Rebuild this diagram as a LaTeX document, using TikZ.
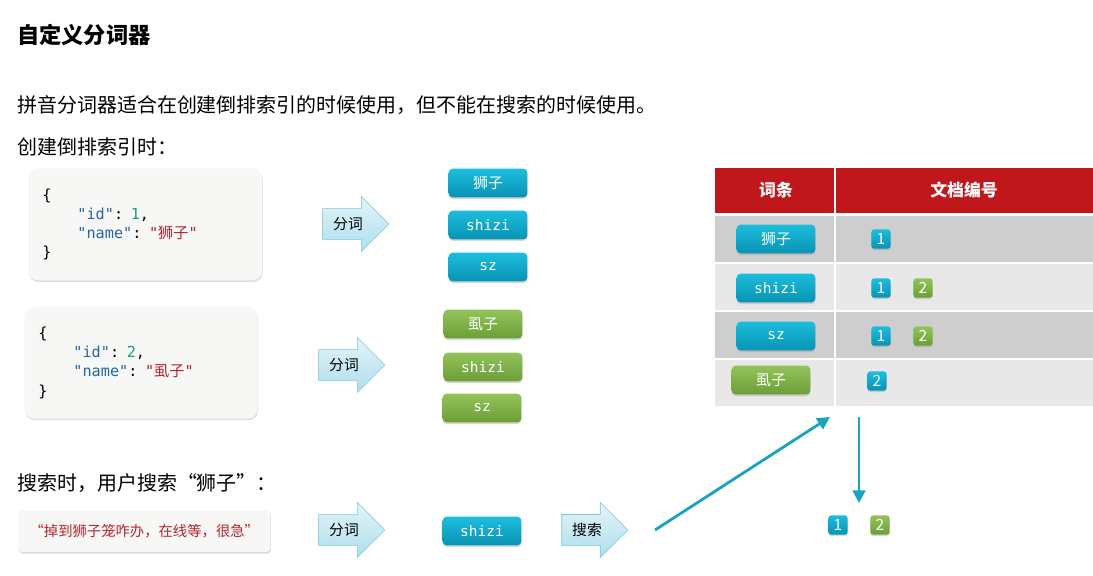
\documentclass[tikz,border=0pt]{standalone}
\usepackage{fontspec}
\setmainfont{Noto Sans CJK SC}
\setmonofont{DejaVu Sans Mono}
\usetikzlibrary{shapes.arrows,shadows,arrows.meta}

\definecolor{tokbluetop}{HTML}{1DBDDD}
\definecolor{tokbluebot}{HTML}{0893B3}
\definecolor{tokgreentop}{HTML}{93C35A}
\definecolor{tokgreenbot}{HTML}{6C9E38}
\definecolor{hdrred}{HTML}{C0171C}
\definecolor{rowdark}{HTML}{CFCECE}
\definecolor{rowlight}{HTML}{E8E8E8}
\definecolor{codegray}{HTML}{F7F7F5}
\definecolor{keyblue}{HTML}{2466A8}
\definecolor{numgreen}{HTML}{1E9E7E}
\definecolor{strred}{HTML}{B3262C}
\definecolor{flowcyan}{HTML}{1AA3BF}
\definecolor{arrowedge}{HTML}{78C8E0}

\begin{document}
\begin{tikzpicture}[x=0.025cm,y=-0.025cm,
    txt/.style={anchor=west, inner sep=0pt, font=\fontsize{14.2}{17}\selectfont},
    codebox/.style={anchor=north west, rounded corners=7pt, fill=codegray,
        drop shadow={opacity=0.25, shadow xshift=0.4pt, shadow yshift=-1.2pt},
        inner xsep=0.35cm, align=left, font=\ttfamily\fontsize{10.8}{13.6}\selectfont},
    fenci/.style={single arrow, draw=arrowedge, top color=arrowedge!20, bottom color=arrowedge!60,
        single arrow head extend=0.3cm, minimum height=1.65cm, inner sep=6pt,
        font=\fontsize{10.5}{12}\selectfont},
    tok/.style={rounded corners=3pt, minimum width=1.97cm, minimum height=0.72cm, text=white,
        drop shadow={opacity=0.3, shadow xshift=0pt, shadow yshift=-1.2pt},
        font=\fontsize{10.6}{12}\selectfont},
    mono/.style={font=\ttfamily\fontsize{10.3}{12}\selectfont},
    tokblue/.style={tok, top color=tokbluetop, bottom color=tokbluebot},
    tokgreen/.style={tok, top color=tokgreentop, bottom color=tokgreenbot},
    doc/.style={rounded corners=2pt, minimum size=0.48cm, inner sep=0pt, text=white,
        drop shadow={opacity=0.3, shadow xshift=0pt, shadow yshift=-1pt},
        font=\fontsize{11}{12}\selectfont},
    docblue/.style={doc, top color=tokbluetop, bottom color=tokbluebot},
    docgreen/.style={doc, top color=tokgreentop, bottom color=tokgreenbot},
    flow/.style={flowcyan, line width=2pt, -{Triangle[length=9pt,width=9pt]}}]

    \useasboundingbox[fill=white] (0,0) rectangle (1093,575);

    % Headings
    \node[txt, font=\bfseries\fontsize{15.8}{19}\selectfont] (title) at (17,35) {自定义分词器};
    \node[txt] (intro) at (17,105) {拼音分词器适合在创建倒排索引的时候使用，但不能在搜索的时候使用。};
    \node[txt] (build) at (17,147) {创建倒排索引时：};
    \node[txt] (query) at (17,483) {搜索时，用户搜索“狮子”：};

    % Documents
    \node[codebox, text width=5.15cm, minimum height=2.8cm] (json1) at (28,168)
        {\{\\\hspace*{25pt}\textcolor{keyblue}{"id"}: \textcolor{numgreen}{1},\\
         \hspace*{25pt}\textcolor{keyblue}{"name"}: \textcolor{strred}{"{\rmfamily 狮子}"}\\\}};
    \node[codebox, text width=5.13cm, minimum height=2.78cm] (json2) at (24,307)
        {\{\\\hspace*{25pt}\textcolor{keyblue}{"id"}: \textcolor{numgreen}{2},\\
         \hspace*{25pt}\textcolor{keyblue}{"name"}: \textcolor{strred}{"{\rmfamily 虱子}"}\\\}};

    % Tokenizing
    \node[fenci] (fc1) at (348,224) {分词};
    \node[fenci] (fc2) at (344,365) {分词};
    \node[tokblue] (a1) at (488,183) {狮子};
    \node[tokblue, mono] (a2) at (488,225) {shizi};
    \node[tokblue, mono] (a3) at (488,267) {sz};
    \node[tokgreen] (b1) at (483,324) {虱子};
    \node[tokgreen, mono] (b2) at (483,367) {shizi};
    \node[tokgreen, mono] (b3) at (482,408) {sz};

    % Inverted index
    \fill[hdrred] (715,168) rectangle (834,213);
    \fill[hdrred] (836,168) rectangle (1093,213);
    \fill[rowdark] (715,216) rectangle (834,262);
    \fill[rowdark] (836,216) rectangle (1093,262);
    \fill[rowlight] (715,264) rectangle (834,310);
    \fill[rowlight] (836,264) rectangle (1093,310);
    \fill[rowdark] (715,312) rectangle (834,358);
    \fill[rowdark] (836,312) rectangle (1093,358);
    \fill[rowlight] (715,360) rectangle (834,406);
    \fill[rowlight] (836,360) rectangle (1093,406);
    \node[text=white, font=\bfseries\fontsize{12}{14}\selectfont] (hterm) at (776,190) {词条};
    \node[text=white, font=\bfseries\fontsize{12}{14}\selectfont] (hdoc) at (964,190) {文档编号};

    \node[tokblue] (t1) at (776,239) {狮子};
    \node[tokblue, mono] (t2) at (776,288) {shizi};
    \node[tokblue, mono] (t3) at (776,336) {sz};
    \node[tokgreen] (t4) at (771,380) {虱子};
    \node[docblue] (d11) at (881,239) {1};
    \node[docblue] (d21) at (881,288) {1};
    \node[docgreen] (d22) at (923,288) {2};
    \node[docblue] (d31) at (881,336) {1};
    \node[docgreen] (d32) at (923,336) {2};
    \node[docblue] (d41) at (877,381) {2};

    % Searching
    \node[anchor=west, fill=codegray, inner sep=0pt, minimum width=6.3cm, minimum height=1.05cm,
        rounded corners=3pt, text=strred, font=\fontsize{10.2}{12}\selectfont,
        drop shadow={opacity=0.3, shadow xshift=0.4pt, shadow yshift=-1.2pt}] (quote) at (18,531)
        {“掉到狮子笼咋办，在线等，很急”};
    \node[fenci] (fc3) at (344,530) {分词};
    \node[tokblue, mono] (s1) at (482,531) {shizi};
    \node[fenci] (ss) at (587,530) {搜索};

    \coordinate (qstart) at (655,530);
    \coordinate (qend) at (830,417);
    \coordinate (vtop) at (859,417);
    \coordinate (vbot) at (859,503);
    \draw[flow] (qstart) -- (qend);
    \draw[flow] (vtop) -- (vbot);

    % Result
    \node[docblue] (r1) at (838,525) {1};
    \node[docgreen] (r2) at (880,525) {2};
\end{tikzpicture}
\end{document}
